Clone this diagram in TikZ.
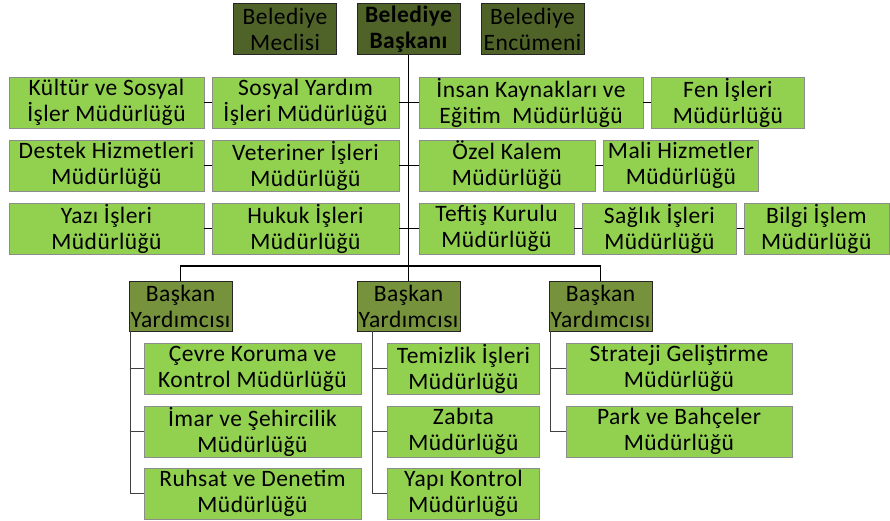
\documentclass[tikz,border=0pt]{standalone}
\usepackage{fontspec}
\setmainfont{Carlito}[LetterSpace=2]
\usetikzlibrary{positioning}
\definecolor{koyu}{HTML}{4F6228}
\definecolor{orta}{HTML}{76923C}
\definecolor{acik}{HTML}{92D050}

\begin{document}
\begin{tikzpicture}[
    x=1pt, y=-1pt,
    kutu/.style = {rectangle, draw, inner sep=0pt, align=center, minimum height=51pt},
    ust/.style = {kutu, fill=koyu, draw=black!85, minimum width=103pt},
    yrd/.style = {kutu, fill=orta, draw=black!85, minimum width=103pt, minimum height=50pt},
    mud/.style = {kutu, fill=acik, draw=black!45},
    hat/.style = {black, line width=1.6pt},
    ince/.style = {black!75, line width=1.2pt},
    font=\fontsize{23.5}{26}\selectfont
    ]

  \useasboundingbox (0,0) rectangle (890,521);

  % ust sira
  \node[ust] (meclis) at (285,29) {Belediye\\Meclisi} ;
  \node[ust] (baskan) at (408.5,29) {\bfseries Belediye\\\bfseries Başkanı} ;
  \node[ust] (encumen) at (532.5,29) {Belediye\\Encümeni} ;

  % mudurlukler, sol
  \node[mud, minimum width=195pt] (kultur) at (106.5,102.5) {Kültür ve Sosyal\\İşler Müdürlüğü} ;
  \node[mud, minimum width=187pt] (sosyal) at (305.5,102.5) {Sosyal Yardım\\İşleri Müdürlüğü} ;
  \node[mud, minimum width=195pt] (destek) at (106.5,165.5) {Destek Hizmetleri\\Müdürlüğü} ;
  \node[mud, minimum width=187pt] (veteriner) at (305.5,165.5) {Veteriner İşleri\\Müdürlüğü} ;
  \node[mud, minimum width=195pt] (yazi) at (106.5,228.5) {Yazı İşleri\\Müdürlüğü} ;
  \node[mud, minimum width=187pt] (hukuk) at (305.5,228.5) {Hukuk İşleri\\Müdürlüğü} ;

  % mudurlukler, sag
  \node[mud, minimum width=224pt] (insan) at (531,102.5) {İnsan Kaynakları ve\\Eğitim~ Müdürlüğü} ;
  \node[mud, minimum width=153pt] (fen) [right=8pt of insan] {Fen İşleri\\Müdürlüğü} ;
  \node[mud, minimum width=176pt] (ozel) at (507,165.5) {Özel Kalem\\Müdürlüğü} ;
  \node[mud, minimum width=155pt] (mali) [right=8pt of ozel] {Mali Hizmetler\\Müdürlüğü} ;
  \node[mud, minimum width=155pt] (teftis) at (496.5,228.5) {Teftiş Kurulu\\Müdürlüğü} ;
  \node[mud, minimum width=154pt] (saglik) [right=8pt of teftis] {Sağlık İşleri\\Müdürlüğü} ;
  \node[mud, minimum width=145pt] (bilgi) [right=7pt of saglik] {Bilgi İşlem\\Müdürlüğü} ;

  % baskan yardimcilari
  \node[yrd] (by1) at (180.5,306) {Başkan\\Yardımcısı} ;
  \node[yrd] (by2) at (408.5,306) {Başkan\\Yardımcısı} ;
  \node[yrd] (by3) at (600.5,306) {Başkan\\Yardımcısı} ;
  \coordinate (bus) at (408.5,266) ;

  \node[mud, minimum width=217pt] (cevre) at (252.5,368.5) {Çevre Koruma ve\\Kontrol Müdürlüğü} ;
  \node[mud, minimum width=217pt] (imar) at (252.5,431.5) {İmar ve Şehircilik\\Müdürlüğü} ;
  \node[mud, minimum width=217pt] (ruhsat) at (252.5,493.5) {Ruhsat ve Denetim\\Müdürlüğü} ;
  \node[mud, minimum width=152pt] (temizlik) at (463.5,368.5) {Temizlik İşleri\\Müdürlüğü} ;
  \node[mud, minimum width=152pt] (zabita) at (463.5,431.5) {Zabıta\\Müdürlüğü} ;
  \node[mud, minimum width=152pt] (yapi) at (463.5,493.5) {Yapı Kontrol\\Müdürlüğü} ;
  \node[mud, minimum width=226pt] (strateji) at (679,368.5) {Strateji Geliştirme\\Müdürlüğü} ;
  \node[mud, minimum width=226pt] (park) at (679,431.5) {Park ve Bahçeler\\Müdürlüğü} ;

  \draw[hat]
  (baskan) -- (by2)
  (by1.north) |- (bus) -| (by3.north)
  (kultur) -- (sosyal)
  (destek) -- (veteriner)
  (yazi) -- (hukuk)
  (sosyal) -- (insan)
  (veteriner) -- (ozel)
  (hukuk) -- (teftis)
  (insan) -- (fen)
  (ozel) -- (mali)
  (teftis) -- (saglik)
  (saglik) -- (bilgi) ;

  \draw[ince]
  ([xshift=1.5pt]by1.south west) |- (cevre.west)
  ([xshift=1.5pt]by1.south west) |- (imar.west)
  ([xshift=1.5pt]by1.south west) |- (ruhsat.west)
  ([xshift=16pt]by2.south west) |- (temizlik.west)
  ([xshift=16pt]by2.south west) |- (zabita.west)
  ([xshift=16pt]by2.south west) |- (yapi.west)
  ([xshift=2pt]by3.south west) |- (strateji.west)
  ([xshift=2pt]by3.south west) |- (park.west) ;

\end{tikzpicture}
\end{document}
